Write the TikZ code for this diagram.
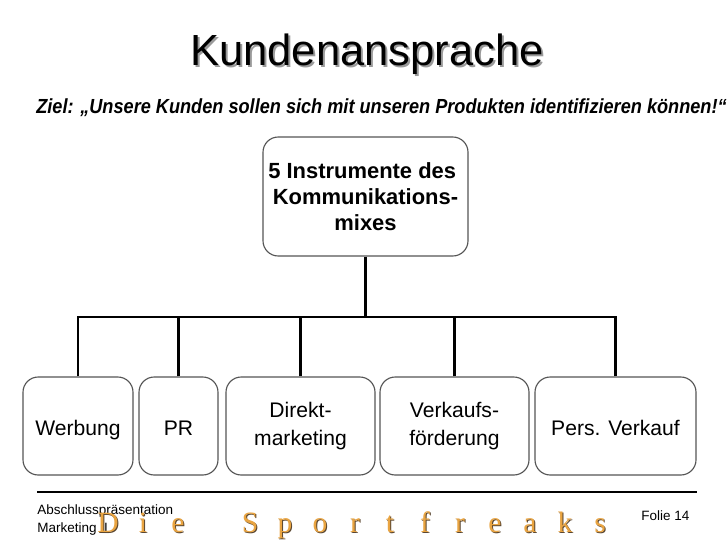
\documentclass[tikz,border=0pt]{standalone}
\usepackage{fontspec}
\setmainfont{Liberation Sans}
\newfontfamily\narrowfont[FakeStretch=0.89]{Liberation Sans}
\newfontfamily\serifletters{Liberation Serif}
\usetikzlibrary{positioning}
\definecolor{boxgray}{HTML}{555555}
\definecolor{shadowgray}{HTML}{9A9A9A}
\definecolor{sforange}{HTML}{E9A441}
\definecolor{sfbrown}{HTML}{5A4630}

\tikzset{
  instrbox/.style={draw=boxgray, line width=0.8pt, rounded corners=0.38cm, align=center, inner sep=2pt},
  oneline/.style={text height=12.8pt, text depth=0pt},
  conn/.style={black, line width=1.8pt},
  footnote/.style={font=\fontsize{9.6}{12.8}\selectfont, anchor=base west, inner sep=0pt}
}

\begin{document}
\begin{tikzpicture}[x=0.025cm, y=-0.025cm]

% Background
\useasboundingbox (0,0) rectangle (728,546);
\fill[white] (0,0) rectangle (728,546);

% Title with shadow
\node[text=shadowgray, font=\fontsize{31}{36}\selectfont, anchor=base] at (369,67) {Kundenansprache};
\node[font=\fontsize{31}{36}\selectfont, anchor=base] (title) at (367,65) {Kundenansprache};

% Goal
\node[font=\narrowfont\bfseries\itshape\fontsize{14.5}{17}\selectfont, anchor=base west, inner sep=0pt] (ziel) at (36,113)
  {Ziel: „Unsere Kunden sollen sich mit unseren Produkten identifizieren können!“};

% Root box
\node[instrbox, minimum width=205*0.025cm, minimum height=119*0.025cm, font=\bfseries\fontsize{15.6}{18.5}\selectfont] (instr) at (365.5,196.5)
  {5 Instrumente des\hspace*{0.3em}\\Kommunikations-\\mixes};

% Instruments
\begin{scope}[every node/.style={instrbox, minimum height=98*0.025cm, font=\fontsize{15}{19.8}\selectfont}]
  \node[oneline, minimum width=110*0.025cm] (werbung) at (78,426) {Werbung};
  \node[oneline, minimum width=79*0.025cm] (pr) at (178.5,426) {PR};
  \node[minimum width=149*0.025cm] (direkt) at (300.5,426) {Direkt-\\marketing};
  \node[minimum width=149*0.025cm] (vkf) at (454.5,426) {Verkaufs-\\förderung};
  \node[oneline, minimum width=161*0.025cm] (persvk) at (615.5,426) {Pers. Verkauf};
\end{scope}

% Connectors
\coordinate (bus) at (365.5,317);
\draw[conn] (instr.south) -- (bus);
\foreach \n in {werbung,pr,direkt,vkf,persvk}
  \draw[conn] (\n.north) |- (bus);

% Footer
\draw[black, line width=0.8pt] (37,492) -- (697,492);
\node[footnote] (absch) at (37,514) {Abschlusspräsentation};
\node[footnote] (mkt) at (37,532) {Marketing II};
\node[footnote] (folie) at (641,520) {Folie 14};

\foreach \x/\c in {108/D,143/i,178/e,250/S,285/p,320/o,355/r,390/t,425/f,460/r,495/e,530/a,565/k,600/s} {
  \node[text=sfbrown, font=\serifletters\fontsize{21}{24}\selectfont, anchor=base] at (\x+1,533) {\c};
  \node[text=sforange, font=\serifletters\fontsize{21}{24}\selectfont, anchor=base] at (\x,532) {\c};
}

\end{tikzpicture}
\end{document}
